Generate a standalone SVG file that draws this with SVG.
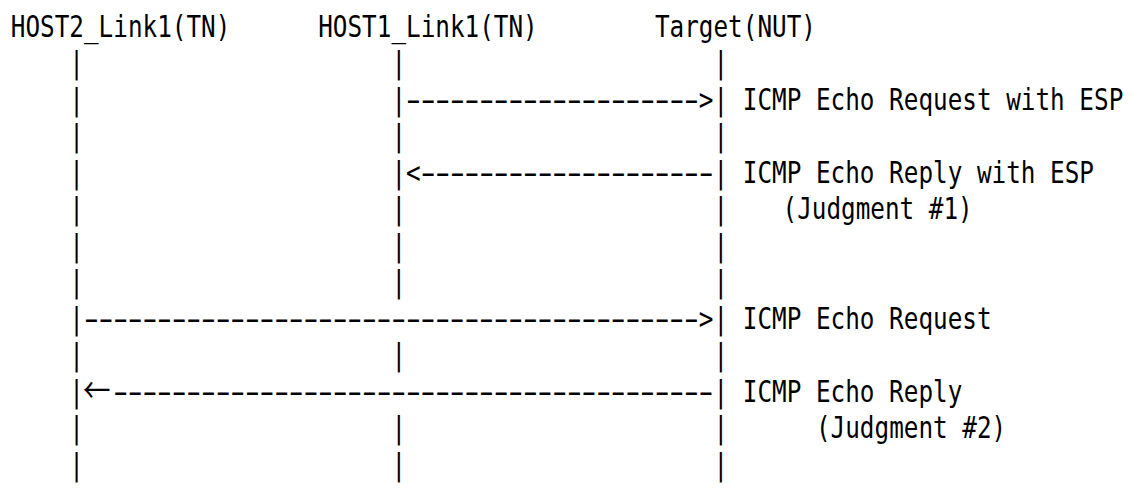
<svg xmlns="http://www.w3.org/2000/svg" width="1132" height="496" viewBox="0 0 1132 496">
  <style>
    .t { font-family: "DejaVu Sans Mono", "Liberation Mono", monospace; font-size: 30px; fill: #000; white-space: pre; }
    .d { font-family: "DejaVu Sans Mono", "Liberation Mono", monospace; font-size: 53px; letter-spacing: -13.85px; fill: #000; white-space: pre; }
    .arr { font-family: "Noto Sans CJK JP", "DejaVu Sans", sans-serif; font-size: 34px; fill: #000; }
  </style>
  <rect width="1132" height="496" fill="#fff"/>
  <!-- character grid: one column = 18.06 units (14.64 px after the horizontal squeeze), rows every 36.5 px -->
  <g transform="translate(10.8 0) scale(0.8106 1)">
    <g id="host2">
      <text class="t" x="0" y="37">HOST2_Link1(TN)</text>
    </g>
    <g id="host1">
      <text class="t" x="379.26" y="37">HOST1_Link1(TN)</text>
    </g>
    <g id="target">
      <text class="t" x="794.64" y="37">Target(NUT)</text>
    </g>

    <g id="connectors">
      <!-- lifelines: columns 4, 26 and 48 -->
      <text class="t" x="72.24 469.56 866.88" y="73.5">|||</text>
      <text class="t" x="72.24 469.56" y="110">||</text>
      <text class="t" x="72.24 469.56 866.88" y="146.5">|||</text>
      <text class="t" x="72.24" y="183">|</text>
      <text class="t" x="72.24 469.56 866.88" y="219.5">|||</text>
      <text class="t" x="72.24 469.56 866.88" y="256">|||</text>
      <text class="t" x="72.24 469.56 866.88" y="292.5">|||</text>
      <text class="t" x="72.24" y="329">|</text>
      <text class="t" x="72.24 469.56 866.88" y="365.5">|||</text>
      <text class="t" x="72.24" y="402">|</text>
      <text class="t" x="72.24 469.56 866.88" y="438.5">|||</text>
      <text class="t" x="72.24 469.56 866.88" y="475">|||</text>

      <!-- dashed shafts are drawn taller then squashed, so each dash fills most of its column -->
      <!-- ICMP Echo Request with ESP: HOST1 -> Target -->
      <text class="d" transform="scale(1 0.566)" x="480.75" y="194.35">--------------------</text>
      <text class="t" x="848.82" y="110">&gt;|</text>
      <!-- ICMP Echo Reply with ESP: Target -> HOST1 -->
      <text class="t" x="469.56" y="183">|&lt;</text>
      <text class="d" transform="scale(1 0.566)" x="498.81" y="323.32">--------------------</text>
      <text class="t" x="866.88" y="183">|</text>
      <!-- ICMP Echo Request: HOST2 -> Target -->
      <text class="d" transform="scale(1 0.566)" x="83.43" y="581.27">------------------------------------------</text>
      <text class="t" x="848.82" y="329">&gt;|</text>
      <!-- ICMP Echo Reply: Target -> HOST2 -->
      <text class="arr" x="89" y="403">←</text>
      <text class="d" transform="scale(1 0.566)" x="119.55" y="710.25">-----------------------------------------</text>
      <text class="t" x="866.88" y="402">|</text>
    </g>

    <g id="labels">
      <text class="t" x="903" y="110">ICMP Echo Request with ESP</text>
      <text class="t" x="903" y="183">ICMP Echo Reply with ESP</text>
      <text class="t" x="952" y="219.5">(Judgment #1)</text>
      <text class="t" x="993.3" y="438.5">(Judgment #2)</text>
      <text class="t" x="903" y="329">ICMP Echo Request</text>
      <text class="t" x="903" y="402">ICMP Echo Reply</text>
    </g>
  </g>
</svg>
